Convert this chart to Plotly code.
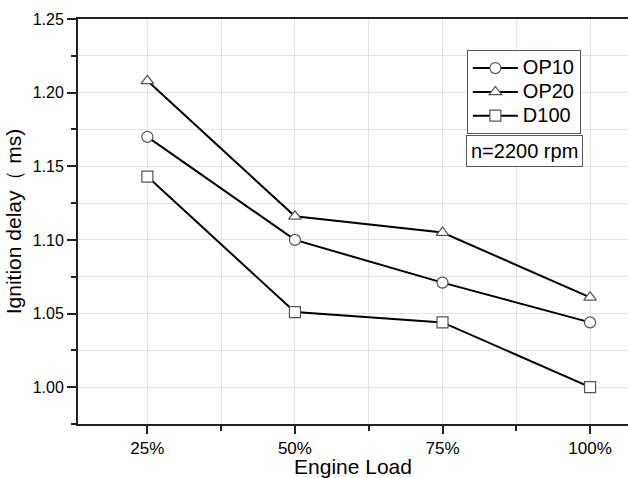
import plotly.graph_objects as go

categories = ["25%", "50%", "75%", "100%"]
op10 = [1.170, 1.100, 1.071, 1.044]
op20 = [1.208, 1.116, 1.105, 1.061]
d100 = [1.143, 1.051, 1.044, 1.000]

series = [("OP10", op10, "circle"), ("OP20", op20, "triangle-up"), ("D100", d100, "square")]
xi = list(range(len(categories)))

fig = go.Figure()
for name, vals, sym in series:
    fig.add_trace(go.Scatter(
        x=xi, y=vals, mode="lines+markers",
        name="<span style='font-size:20px'>" + name + "</span>",
        line=dict(color="black", width=2),
        marker=dict(symbol=sym, size=11, color="white",
                    line=dict(color="#555555", width=1.2)),
    ))

font_family = "Liberation Sans, Arial, sans-serif"
grid = "#e4e4e4"

fig.update_layout(
    width=628, height=478,
    margin=dict(l=78, r=0, t=19, b=54),
    paper_bgcolor="white", plot_bgcolor="white",
    font=dict(family=font_family, color="black"),
    showlegend=True,
    legend=dict(
        x=0.707, y=0.923, xanchor="left", yanchor="top",
        bordercolor="#555555", borderwidth=1, bgcolor="white",
        font=dict(size=16), itemwidth=45, tracegroupgap=0,
    ),
    annotations=[dict(
        x=0.811, y=0.673, xref="paper", yref="paper",
        xanchor="center", yanchor="middle",
        text="n=2200 rpm", showarrow=False,
        font=dict(size=20), bordercolor="#555555", borderwidth=1,
        borderpad=4, bgcolor="white",
    )],
)

fig.update_xaxes(
    range=[-0.47, 3.257],
    tickmode="array", tickvals=xi, ticktext=categories,
    ticks="outside", ticklen=8, tickwidth=2, tickcolor="#222",
    showline=True, linecolor="#222", linewidth=2, mirror=True,
    showgrid=True, gridcolor=grid, gridwidth=1,
    minor=dict(tickvals=[0.5, 1.5, 2.5], ticks="outside", ticklen=5,
               tickwidth=2, tickcolor="#222", showgrid=True, gridcolor=grid),
    tickfont=dict(size=17),
    title=dict(text="Engine Load", font=dict(size=21), standoff=5),
    zeroline=False,
)
fig.update_yaxes(
    range=[0.975, 1.25],
    tickmode="linear", tick0=1.0, dtick=0.05, tickformat=".2f",
    ticks="outside", ticklen=9, tickwidth=2, tickcolor="#222",
    showline=True, linecolor="#222", linewidth=2,
    showgrid=True, gridcolor=grid, gridwidth=1,
    minor=dict(dtick=0.025, tick0=1.0, ticks="outside", ticklen=5,
               tickwidth=2, tickcolor="#222", showgrid=True, gridcolor=grid),
    tickfont=dict(size=16),
    title=dict(text="Ignition delay（ ms)", font=dict(size=21), standoff=5),
    zeroline=False,
)

fig.write_html("out.html", config={"displayModeBar": False},
               post_script="document.body.style.margin='0';")
